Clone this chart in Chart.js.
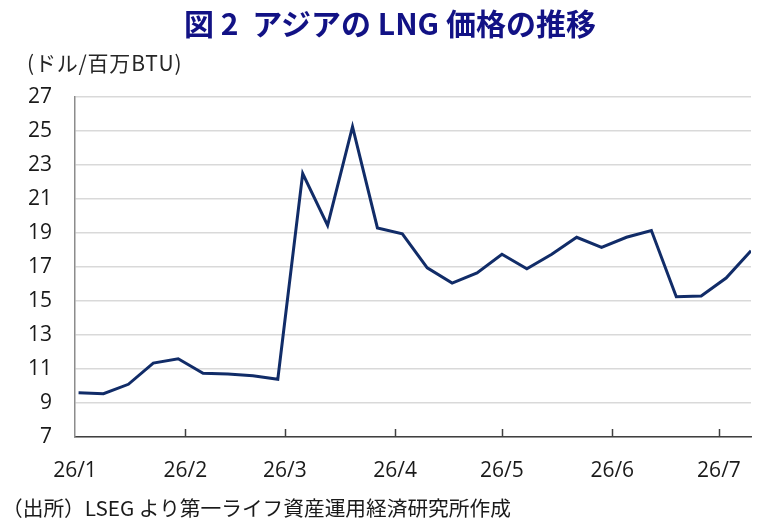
<!DOCTYPE html>
<html lang="ja">
<head>
<meta charset="utf-8">
<script src="https://cdn.jsdelivr.net/npm/chart.js@4.4.0/dist/chart.umd.min.js"></script>
<style>
  body { margin: 0; background: #fff; }
  #wrap { position: relative; width: 773px; height: 530px; overflow: hidden; }
  #chart { position: absolute; left: 0; top: 0; }
  .txt { position: absolute; white-space: nowrap; font-family: "Noto Sans CJK JP", sans-serif; }
  #title { left: 0; width: 780px; top: 0; text-align: center; font-size: 30px; font-weight: bold; color: #121285; }
  #unit { left: 27px; top: 47px; font-size: 21px; letter-spacing: 0.8px; color: #262626; }
  #source { left: 2px; top: 492px; font-size: 20.7px; color: #1a1a1a; }
</style>
</head>
<body>
<div id="wrap">
  <canvas id="chart" width="773" height="530"></canvas>
  <div class="txt" id="title">図 2&nbsp; アジアの LNG 価格の推移</div>
  <div class="txt" id="unit">(ドル/百万BTU)</div>
  <div class="txt" id="source">（出所）LSEG より第一ライフ資産運用経済研究所作成</div>
</div>
<script>
// month start positions (days since 1 Jan 2026) and their labels
const monthDays = [0, 31, 59, 90, 120, 151, 181];
const monthLabels = ["26/1", "26/2", "26/3", "26/4", "26/5", "26/6", "26/7"];

// weekly observations: day of year and price (USD / MMBtu)
const weekDays = [1, 8, 15, 22, 29, 36, 43, 50, 57, 64, 71, 78, 85, 92,
  99, 106, 113, 120, 127, 134, 141, 148, 155, 162, 169, 176, 183, 190];
const prices = [9.6, 9.55, 10.1, 11.35, 11.6, 10.75, 10.7, 10.6, 10.4, 22.5,
  19.45, 25.25, 19.3, 18.95, 16.95, 16.05, 16.65, 17.75, 16.9, 17.75,
  18.75, 18.15, 18.75, 19.15, 15.25, 15.3, 16.35, 17.95];

const yMin = 7, yMax = 27, yStep = 2;

Chart.defaults.font.family = "'Open Sans', sans-serif";

// short tick marks pointing up into the plot area at each month start
const innerTicks = {
  id: "innerTicks",
  afterDraw(chart) {
    const x = chart.scales.x;
    const ctx = chart.ctx;
    const bottom = chart.chartArea.bottom;
    ctx.save();
    ctx.strokeStyle = "#404040";
    ctx.lineWidth = 1.5;
    x.ticks.forEach(function (t, i) {
      if (i === 0) return;
      const px = Math.round(x.getPixelForValue(t.value)) + 0.5;
      ctx.beginPath();
      ctx.moveTo(px, bottom);
      ctx.lineTo(px, bottom - 8);
      ctx.stroke();
    });
    ctx.restore();
  }
};

new Chart(document.getElementById("chart").getContext("2d"), {
  type: "line",
  data: {
    datasets: [
      {
        data: weekDays.map(function (d, i) { return { x: d, y: prices[i] }; }),
        borderColor: "#112c68",
        borderWidth: 3,
        pointRadius: 0,
        tension: 0,
        fill: false
      }
    ]
  },
  options: {
    responsive: false,
    animation: false,
    layout: { padding: { top: 97, right: 22, bottom: 0, left: 0 } },
    plugins: { legend: { display: false }, tooltip: { enabled: false } },
    scales: {
      x: {
        type: "linear",
        min: monthDays[0],
        max: 190,
        afterBuildTicks: function (s) {
          s.ticks = monthDays.map(function (v) { return { value: v }; });
        },
        afterFit: function (s) { s.height = 93; },
        grid: { display: false, drawTicks: false },
        border: { display: true, color: "#404040", width: 1.5 },
        ticks: {
          autoSkip: false,
          maxRotation: 0,
          padding: 21,
          color: "#1a1a1a",
          font: { size: 21 },
          callback: function (v, i) { return monthLabels[i]; }
        }
      },
      y: {
        min: yMin,
        max: yMax,
        afterFit: function (s) { s.width = 75; },
        grid: { color: "#d9d9d9", lineWidth: 1.5, drawTicks: false },
        border: { display: true, color: "#8c8c8c", width: 1.5 },
        ticks: {
          stepSize: yStep,
          padding: 23,
          color: "#1a1a1a",
          font: { size: 21 }
        }
      }
    }
  },
  plugins: [innerTicks]
});
</script>
</body>
</html>
